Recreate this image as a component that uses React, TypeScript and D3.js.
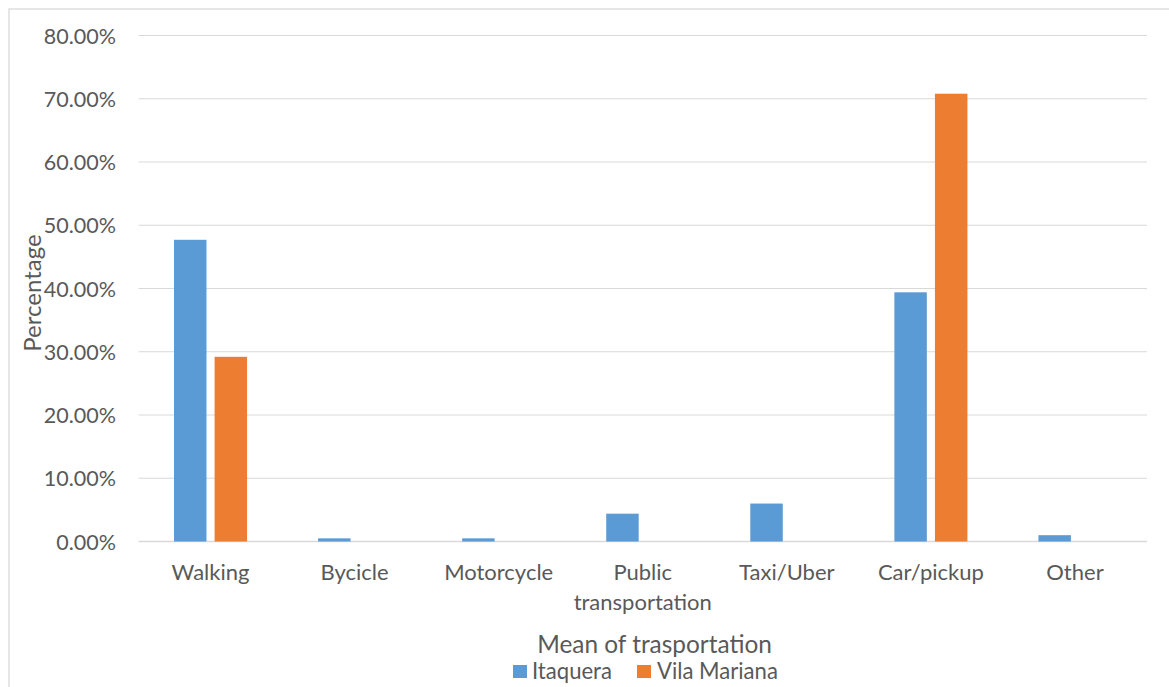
import React from "react";
import * as d3 from "d3";

// Share of trips by mean of transportation, per neighbourhood
const categories: string[][] = [
  ["Walking"],
  ["Bycicle"],
  ["Motorcycle"],
  ["Public", "transportation"],
  ["Taxi/Uber"],
  ["Car/pickup"],
  ["Other"],
];
const seriesNames = ["Itaquera", "Vila Mariana"];
const itaquera = [47.7, 0.5, 0.5, 4.4, 6.0, 39.4, 1.0];
const vilaMariana = [29.2, 0, 0, 0, 0, 70.8, 0];
const yTicks = [0, 10, 20, 30, 40, 50, 60, 70, 80];
const colors = ["#5B9BD5", "#ED7D31"];

const W = 1169;
const H = 687;
const plot = { left: 138.5, right: 1147, top: 35.5, bottom: 541.5 };
const FONT = "Lato, 'Open Sans', sans-serif";
const TEXT = "#595959";
const GRID = "#D9D9D9";

export default function App() {
  const keys = categories.map((c) => c.join(" "));
  const x = d3.scaleBand<string>().domain(keys).range([plot.left, plot.right]).padding(0);
  const y = d3.scaleLinear().domain([0, 80]).range([plot.bottom, plot.top]);
  const groupWidth = x.bandwidth() * 0.507;
  const inner = d3
    .scaleBand<string>()
    .domain(seriesNames)
    .range([-groupWidth / 2, groupWidth / 2])
    .paddingInner(0.2);
  const series = [itaquera, vilaMariana];

  return (
    <svg
      width={W}
      height={H}
      style={{ position: "absolute", left: 0, top: 0, background: "#fff" }}
      fontFamily={FONT}
    >
      <rect x={0} y={0} width={W} height={H} fill="#fff" />
      {/* chart area outline */}
      <rect x={9} y={9} width={W + 50} height={H + 50} fill="none" stroke={GRID} strokeWidth={1.3} />

      {/* gridlines and tick labels */}
      {yTicks.map((t) => (
        <g key={t}>
          <line
            x1={plot.left}
            x2={plot.right}
            y1={y(t)}
            y2={y(t)}
            stroke={GRID}
            strokeWidth={t === 0 ? 1.6 : 1.2}
          />
          <text
            x={116}
            y={y(t) + 8}
            textAnchor="end"
            fontSize={21.5}
            fill={TEXT}
          >
            {t.toFixed(2)}%
          </text>
        </g>
      ))}

      {/* bars */}
      {series.map((vals, si) =>
        vals.map((v, i) =>
          v > 0 ? (
            <rect
              key={`${si}-${i}`}
              x={(x(keys[i]) as number) + x.bandwidth() / 2 + (inner(seriesNames[si]) as number)}
              y={y(v)}
              width={inner.bandwidth()}
              height={y(0) - y(v)}
              fill={colors[si]}
            />
          ) : null
        )
      )}

      {/* category labels */}
      {categories.map((lines, i) => (
        <text
          key={keys[i]}
          x={(x(keys[i]) as number) + x.bandwidth() / 2}
          y={580}
          textAnchor="middle"
          fontSize={22}
          fill={TEXT}
        >
          {lines.map((ln, j) => (
            <tspan key={j} x={(x(keys[i]) as number) + x.bandwidth() / 2} dy={j === 0 ? 0 : 29.5}>
              {ln}
            </tspan>
          ))}
        </text>
      ))}

      {/* axis titles */}
      <text
        transform={`translate(41,293) rotate(-90)`}
        textAnchor="middle"
        fontSize={24}
        fill={TEXT}
      >
        Percentage
      </text>
      <text x={654.5} y={652.5} textAnchor="middle" fontSize={24.4} fill={TEXT}>
        Mean of trasportation
      </text>

      {/* legend */}
      <rect x={513} y={665} width={14} height={13} fill={colors[0]} />
      <text x={532} y={678.5} fontSize={22.1} fill={TEXT}>
        {seriesNames[0]}
      </text>
      <rect x={637} y={665} width={14} height={13} fill={colors[1]} />
      <text x={657} y={678.5} fontSize={22.1} fill={TEXT}>
        {seriesNames[1]}
      </text>
    </svg>
  );
}
